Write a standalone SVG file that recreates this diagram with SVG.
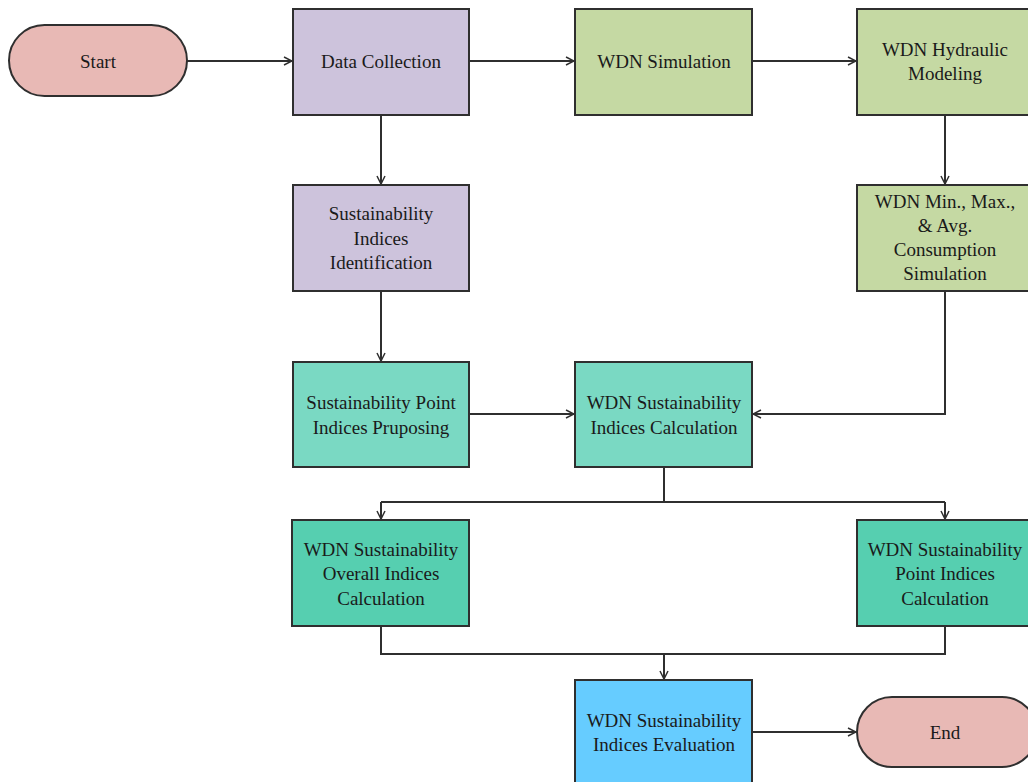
<svg xmlns="http://www.w3.org/2000/svg" width="1028" height="782" viewBox="0 0 1028 782">
<style>
.box{stroke:#2f2f2f;stroke-width:2}
.t{font-family:"Liberation Serif","Times New Roman",serif;font-size:19px;fill:#1a1a1a;text-anchor:middle;dominant-baseline:central}
.c{fill:none;stroke:#2f2f2f;stroke-width:2}
.pink{fill:#e8b9b5}.lav{fill:#cdc3dc}.grn{fill:#c5d9a3}.tq{fill:#7ad9c3}.tq2{fill:#56cfb0}.blu{fill:#66ccff}
</style>
<defs>
<marker id="ah" viewBox="0 0 10 10" refX="9" refY="5" markerWidth="10" markerHeight="10" markerUnits="userSpaceOnUse" orient="auto">
<path d="M1,1 L9,5 L1,9" fill="none" stroke="#2f2f2f" stroke-width="1.5"/>
</marker>
</defs>
<rect width="1028" height="782" fill="#fff"/>
<g id="connectors">
<path class="c" d="M187,61 H292" marker-end="url(#ah)"/>
<path class="c" d="M469,61 H574" marker-end="url(#ah)"/>
<path class="c" d="M752,61 H856" marker-end="url(#ah)"/>
<path class="c" d="M381,115 V184" marker-end="url(#ah)"/>
<path class="c" d="M945,115 V184" marker-end="url(#ah)"/>
<path class="c" d="M381,291 V361" marker-end="url(#ah)"/>
<path class="c" d="M469,414 H574" marker-end="url(#ah)"/>
<path class="c" d="M945,291 V414 H753" marker-end="url(#ah)"/>
<path class="c" d="M664,467 V502"/>
<path class="c" d="M381,502 H945"/>
<path class="c" d="M381,502 V519" marker-end="url(#ah)"/>
<path class="c" d="M945,502 V519" marker-end="url(#ah)"/>
<path class="c" d="M381,626 V654 H945 V626"/>
<path class="c" d="M664,654 V679" marker-end="url(#ah)"/>
<path class="c" d="M752,732 H856" marker-end="url(#ah)"/>
</g>
<g id="start"><rect class="box pink" x="9" y="25" width="178" height="71" rx="35.5"/><text class="t" x="98" y="61">Start</text></g>
<g id="data-collection"><rect class="box lav" x="293" y="9" width="176" height="106"/><text class="t" x="381" y="61">Data Collection</text></g>
<g id="wdn-simulation"><rect class="box grn" x="575" y="9" width="177" height="106"/><text class="t" x="664" y="61">WDN Simulation</text></g>
<g id="hydraulic"><rect class="box grn" x="857" y="9" width="177" height="106"/><text class="t" x="945" y="49">WDN Hydraulic</text><text class="t" x="945" y="73">Modeling</text></g>
<g id="indices-identification"><rect class="box lav" x="293" y="185" width="176" height="106"/><text class="t" x="381" y="213">Sustainability</text><text class="t" x="381" y="238">Indices</text><text class="t" x="381" y="262">Identification</text></g>
<g id="consumption"><rect class="box grn" x="857" y="185" width="177" height="106"/><text class="t" x="945" y="201">WDN Min., Max.,</text><text class="t" x="945" y="225">&amp; Avg.</text><text class="t" x="945" y="249">Consumption</text><text class="t" x="945" y="273">Simulation</text></g>
<g id="point-proposing"><rect class="box tq" x="293" y="362" width="176" height="105"/><text class="t" x="381" y="402">Sustainability Point</text><text class="t" x="381" y="427">Indices Pruposing</text></g>
<g id="indices-calculation"><rect class="box tq" x="575" y="362" width="177" height="105"/><text class="t" x="664" y="402">WDN Sustainability</text><text class="t" x="664" y="427">Indices Calculation</text></g>
<g id="overall-calculation"><rect class="box tq2" x="292" y="520" width="177" height="106"/><text class="t" x="381" y="549">WDN Sustainability</text><text class="t" x="381" y="573">Overall Indices</text><text class="t" x="381" y="598">Calculation</text></g>
<g id="point-calculation"><rect class="box tq2" x="857" y="520" width="177" height="106"/><text class="t" x="945" y="549">WDN Sustainability</text><text class="t" x="945" y="573">Point Indices</text><text class="t" x="945" y="598">Calculation</text></g>
<g id="evaluation"><rect class="box blu" x="575" y="680" width="177" height="110"/><text class="t" x="664" y="720">WDN Sustainability</text><text class="t" x="664" y="744">Indices Evaluation</text></g>
<g id="end"><rect class="box pink" x="857" y="697" width="180" height="70" rx="35"/><text class="t" x="945" y="732">End</text></g>
</svg>
